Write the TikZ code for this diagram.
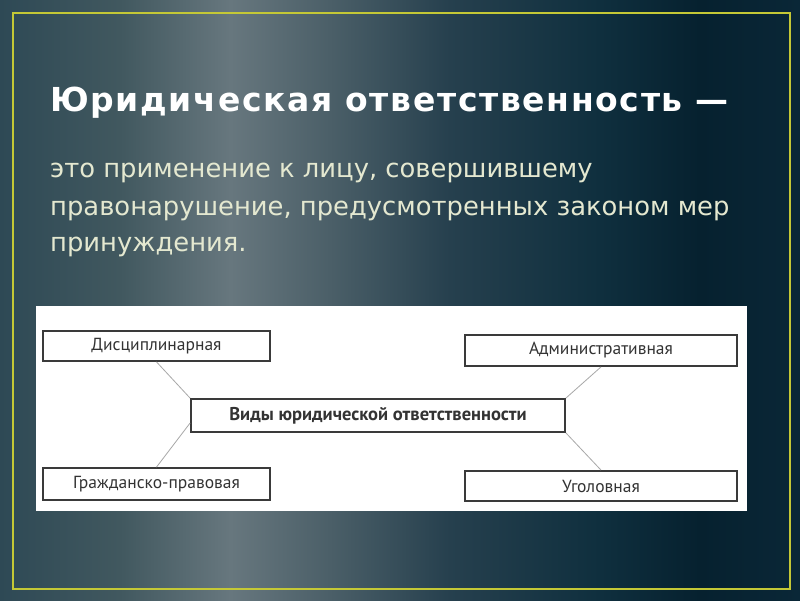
\documentclass[tikz,border=0pt]{standalone}
\usepackage{fontspec}
\setmainfont{DejaVu Sans}
\newfontfamily\titlefont[LetterSpace=5]{DejaVu Sans}
\newfontfamily\bodyfont{DejaVu Sans}
\newfontfamily\boxfont{PT Sans}
\definecolor{bgA}{HTML}{2E4955}
\definecolor{bgA2}{HTML}{41585F}
\definecolor{bgB}{HTML}{67777E}
\definecolor{bgB2}{HTML}{4B5F68}
\definecolor{bgC}{HTML}{26404E}
\definecolor{bgD}{HTML}{0F2F3E}
\definecolor{bgE}{HTML}{06212F}
\definecolor{bgF}{HTML}{0A2737}
\definecolor{framecol}{HTML}{C4C836}
\definecolor{bodycol}{HTML}{E4E8D0}
\definecolor{boxline}{HTML}{3A3A3A}
\definecolor{boxtext}{HTML}{333333}
\definecolor{linkcol}{HTML}{A8A8A8}
\pgfdeclarehorizontalshading{slidebg}{100bp}{color(0bp)=(bgA); color(25bp)=(bgA); color(32.5bp)=(bgA2); color(39.4bp)=(bgB); color(45.6bp)=(bgB2); color(53.1bp)=(bgC); color(62.5bp)=(bgD); color(68.75bp)=(bgE); color(75bp)=(bgF); color(100bp)=(bgF)}
\tikzset{
  kindbox/.style={draw=boxline, line width=1.8pt, fill=white, inner sep=0pt, text=boxtext, font=\boxfont\fontsize{17.5}{20}\selectfont},
  link/.style={draw=linkcol, line width=0.8pt},
  bodyline/.style={anchor=base west, inner sep=0pt, text=bodycol, font=\bodyfont\fontsize{25.8}{30}\selectfont}
}
\begin{document}
\begin{tikzpicture}[x=1pt,y=-1pt]
\useasboundingbox (0,0) rectangle (800,600);
\shade[shading=slidebg] (0,0) rectangle (800,600);
\draw[framecol, line width=2pt] (13,13) rectangle (789.5,589);
\node[anchor=base west, inner sep=0pt, text=white, font=\titlefont\bfseries\fontsize{33}{38}\selectfont] (title) at (50,111) {Юридическая ответственность —};
\node[bodyline] (l1) at (50,177) {это применение к лицу, совершившему};
\node[bodyline] (l2) at (50,215) {правонарушение, предусмотренных законом мер};
\node[bodyline] (l3) at (50,251) {принуждения.};
\fill[white] (36,306) rectangle (747,511);
\node[kindbox, minimum width=227pt, minimum height=30pt] (d) at (156.5,346) {Дисциплинарная};
\node[kindbox, minimum width=272pt, minimum height=31pt] (a) at (601,350.5) {Административная};
\node[kindbox, minimum width=374pt, minimum height=33pt, font=\boxfont\bfseries\fontsize{18.5}{21}\selectfont] (c) at (378,415.5) {Виды юридической ответственности};
\node[kindbox, minimum width=227pt, minimum height=32pt] (g) at (156.5,484) {Гражданско-правовая};
\node[kindbox, minimum width=272pt, minimum height=30pt] (u) at (601,486) {Уголовная};
\draw[link] (d.south) -- (c.north west);
\draw[link] ([yshift=-7.5pt]c.west) -- (g.north);
\draw[link] (c.north east) -- (a.south);
\draw[link] (c.south east) -- (u.north);
\end{tikzpicture}
\end{document}
